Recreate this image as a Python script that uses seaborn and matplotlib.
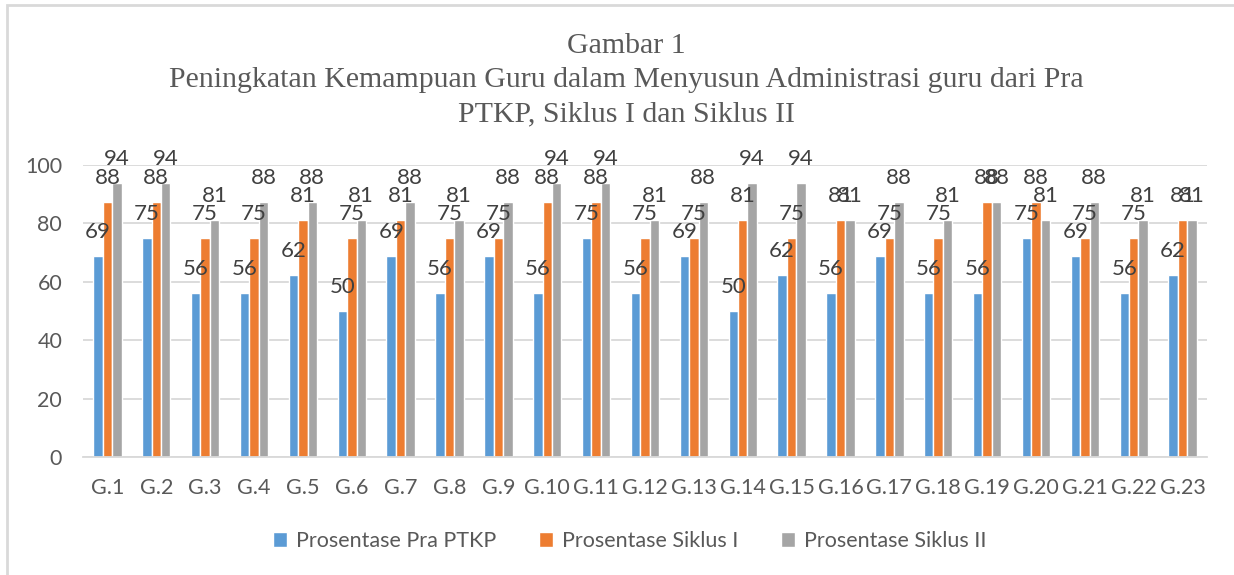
import pandas as pd
import matplotlib
matplotlib.use("Agg")
import matplotlib.pyplot as plt
from matplotlib.patches import Rectangle
import seaborn as sns

# data (bar heights, scores out of 16 -> percent)
guru = [f"G.{i}" for i in range(1, 24)]
pra_ptkp = [68.75, 75, 56.25, 56.25, 62.5, 50, 68.75, 56.25, 68.75, 56.25, 75, 56.25,
            68.75, 50, 62.5, 56.25, 68.75, 56.25, 56.25, 75, 68.75, 56.25, 62.5]
siklus_1 = [87.5, 87.5, 75, 75, 81.25, 75, 81.25, 75, 75, 87.5, 87.5, 75,
            75, 81.25, 75, 81.25, 75, 75, 87.5, 87.5, 75, 75, 81.25]
siklus_2 = [93.75, 93.75, 81.25, 87.5, 87.5, 81.25, 87.5, 81.25, 87.5, 93.75, 93.75, 81.25,
            87.5, 93.75, 93.75, 81.25, 87.5, 81.25, 87.5, 81.25, 87.5, 81.25, 81.25]
series_names = ["Prosentase Pra PTKP", "Prosentase Siklus I", "Prosentase Siklus II"]
colors = ["#5B9BD5", "#ED7D31", "#A5A5A5"]

df = pd.DataFrame({
    "guru": guru * 3,
    "nilai": pra_ptkp + siklus_1 + siklus_2,
    "seri": [series_names[0]] * 23 + [series_names[1]] * 23 + [series_names[2]] * 23,
})

sns.set_style("white")
plt.rcParams["font.family"] = ["Lato", "DejaVu Sans"]

fig = plt.figure(figsize=(12.34, 5.75), dpi=100)
ax = fig.add_axes([83 / 1234, 1 - 457 / 575, (1207 - 83) / 1234, (457 - 165) / 575])

sns.barplot(data=df, x="guru", y="nilai", hue="seri", palette=colors,
            width=0.58, gap=0, saturation=1, ax=ax, legend=True)

for cont in ax.containers:
    vals = [b.get_height() for b in cont]
    ax.bar_label(cont, labels=[f"{v:.0f}" for v in vals], padding=10,
                 fontsize=16, color="#404040")

ax.set_ylim(0, 100)
ax.set_yticks(range(0, 101, 20))
ax.set_xlim(-0.5, 22.5)
ax.set_xlabel("")
ax.set_ylabel("")
ax.grid(axis="y", color="#D9D9D9", linewidth=1.3)
ax.set_axisbelow(True)
for s in ["top", "right", "left"]:
    ax.spines[s].set_visible(False)
ax.spines["bottom"].set_color("#D9D9D9")
ax.spines["bottom"].set_linewidth(1.3)
ax.tick_params(axis="both", length=0, labelsize=15.5, colors="#595959")
ax.tick_params(axis="y", pad=15)
ax.tick_params(axis="x", pad=15)

handles, labels = ax.get_legend_handles_labels()
ax.get_legend().remove()
fig.legend(handles, labels, loc="center", bbox_to_anchor=(630 / 1234, 1 - 541 / 575),
           ncol=3, frameon=False, fontsize=15.5, handlelength=0.65, handleheight=0.65,
           handletextpad=0.4, columnspacing=2.0, labelcolor="#595959")

title_lines = ["Gambar 1",
               "Peningkatan Kemampuan Guru dalam Menyusun Administrasi guru dari Pra",
               "PTKP, Siklus I dan Siklus II"]
for i, line in enumerate(title_lines):
    fig.text(626 / 1234, 1 - (46 + 34 * i) / 575, line, ha="center", va="center",
             fontsize=21.5, color="#595959", family=["Liberation Serif", "DejaVu Serif"])

fig.patches.append(Rectangle((7 / 1234, -0.1), 1.2, 0.1 + 1 - 5 / 575,
                             transform=fig.transFigure, fill=False,
                             edgecolor="#D9D9D9", linewidth=2))

fig.savefig("out.png", dpi=100)
